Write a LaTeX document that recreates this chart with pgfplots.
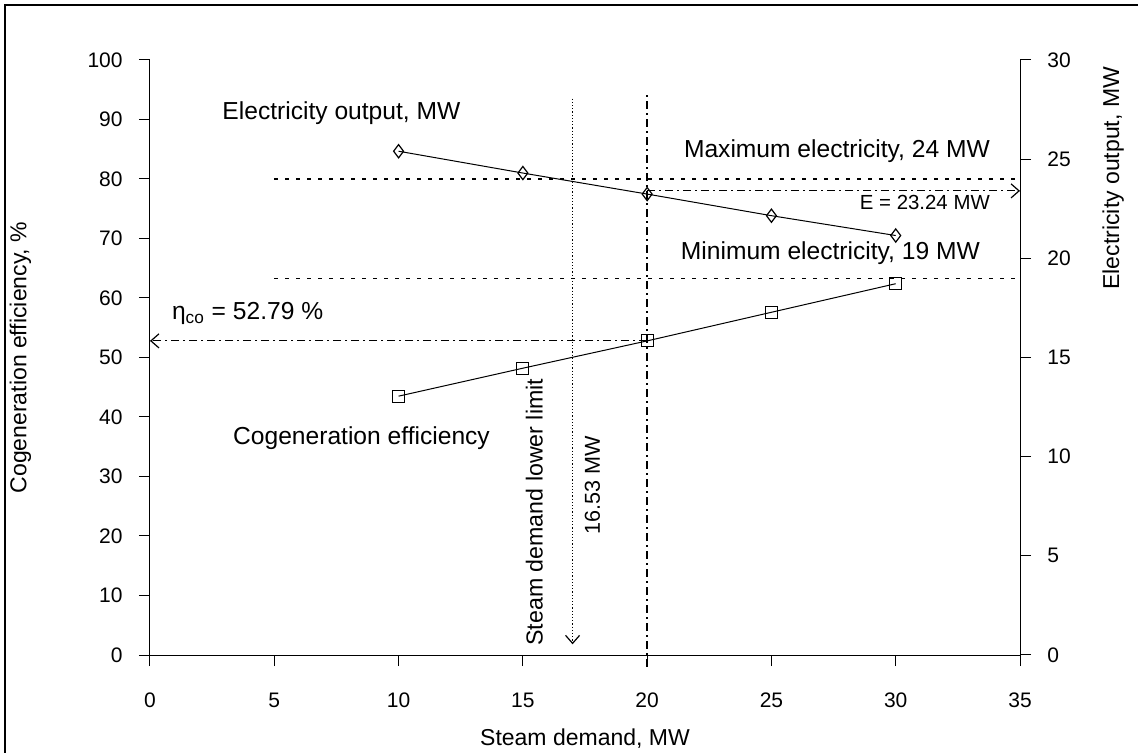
\documentclass[border=0pt]{standalone}
\usepackage{fontspec}
\setmainfont{Liberation Sans}
\usepackage{pgfplots}
\pgfplotsset{compat=1.18}
\usetikzlibrary{arrows.meta}

\pgfplotstableread{
x  eff
10 43.5
15 48.2
20 52.79
25 57.6
30 62.4
}\efftable
\pgfplotstableread{
x  elec
10 25.4
15 24.3
20 23.24
25 22.15
30 21.15
}\electable

\begin{document}
\begin{tikzpicture}[font=\fontsize{12.3}{14}\selectfont]
\useasboundingbox (-75pt,-49pt) rectangle (494pt,327.5pt);
\draw[line width=0.7pt] (-72.5pt,-49pt) -- (-72.5pt,325pt) -- (494pt,325pt);

\begin{axis}[
  at={(0pt,0pt)}, anchor=south west,
  scale only axis, width=435pt, height=297.5pt,
  xmin=0, xmax=35, ymin=0, ymax=100,
  axis x line=bottom, axis y line=left,
  axis line style={-, line width=0.5pt},
  xtick={0,5,...,35}, ytick={0,10,...,100},
  tick align=outside, major tick length=5.5pt,
  tick style={line width=0.5pt, black},
  tick label style={font=\fontsize{10.5}{12}\selectfont},
  /pgf/number format/assume math mode=true,
  xticklabel style={anchor=center, yshift=-17pt},
  yticklabel style={anchor=east, inner sep=0pt, xshift=-8pt},
  xlabel={Steam demand, MW},
  ylabel={Cogeneration efficiency, \%},
  label style={font=\fontsize{11.5}{13}\selectfont},
  xlabel style={at={(axis description cs:0.5,0)}, anchor=center, yshift=-42pt},
  ylabel style={at={(axis description cs:-0.149,0.5)}, anchor=center},
  clip=false,
]
\addplot[black, line width=0.5pt, mark=square, mark size=3pt, mark options={solid, line width=0.6pt}] table[x=x, y=eff] {\efftable};
% eta arrow
\addplot[black, line width=0.6pt, dash pattern=on 4pt off 2pt on 1pt off 2pt, -{Straight Barb[length=4pt,width=7pt]}] coordinates {(20,52.79) (0,52.79)};
% vertical line at 20
\addplot[black, line width=0.7pt, dash pattern=on 4pt off 2pt on 1pt off 2pt] coordinates {(20,-2) (20,94.7)};
% steam lower limit arrow
\addplot[black, line width=0.6pt, densely dotted, -{Straight Barb[length=4pt,width=7pt]}] coordinates {(17,93.5) (17,1.8)};

\node[anchor=west, inner sep=0pt] at (axis cs:2.9,91.0) {Electricity output, MW};
\node[anchor=east, inner sep=0pt] at (axis cs:33.8,84.6) {Maximum electricity, 24 MW};
\node[anchor=east, inner sep=0pt, font=\fontsize{10.2}{12}\selectfont] at (axis cs:33.8,76.0) {E = 23.24 MW};
\node[anchor=east, inner sep=0pt] at (axis cs:33.4,67.6) {Minimum electricity, 19 MW};
\node[anchor=west, inner sep=0pt] at (axis cs:0.87,57.4) {η\textsubscript{co} = 52.79 \%};
\node[anchor=west, inner sep=0pt] at (axis cs:3.33,36.5) {Cogeneration efficiency};
\node[rotate=90, anchor=west, inner sep=0pt, font=\fontsize{11.6}{13}\selectfont] at (axis cs:15.46,1.5) {Steam demand lower limit};
\node[rotate=90, inner sep=0pt, font=\fontsize{10.8}{12}\selectfont] at (axis cs:17.8,28.5) {16.53 MW};
\end{axis}

\begin{axis}[
  at={(0pt,0pt)}, anchor=south west,
  scale only axis, width=435pt, height=297.5pt,
  xmin=0, xmax=35, ymin=0, ymax=30,
  axis x line=none, axis y line=right,
  axis line style={-, line width=0.5pt},
  ytick={0,5,...,30},
  tick align=outside, major tick length=5.5pt,
  tick style={line width=0.5pt, black},
  tick label style={font=\fontsize{10.5}{12}\selectfont},
  /pgf/number format/assume math mode=true,
  yticklabel style={anchor=west, inner sep=0pt, xshift=8pt},
  ylabel={Electricity output, MW},
  label style={font=\fontsize{11.5}{13}\selectfont},
  ylabel style={at={(axis description cs:1.107,1)}, anchor=east},
  clip=false,
]
\addplot[black, line width=0.5pt, mark=diamond, mark size=3.3pt, mark options={solid, line width=0.6pt}] table[x=x, y=elec] {\electable};
\addplot[black, line width=0.6pt, dash pattern=on 2pt off 3.5pt] coordinates {(5,24) (35,24)};
\addplot[black, line width=0.6pt, dash pattern=on 2pt off 3.5pt] coordinates {(5,19) (35,19)};
\addplot[black, line width=0.6pt, dash pattern=on 4pt off 2pt on 1pt off 2pt, -{Straight Barb[length=4pt,width=7pt]}] coordinates {(20,23.4) (35,23.4)};
\end{axis}
\end{tikzpicture}
\end{document}
